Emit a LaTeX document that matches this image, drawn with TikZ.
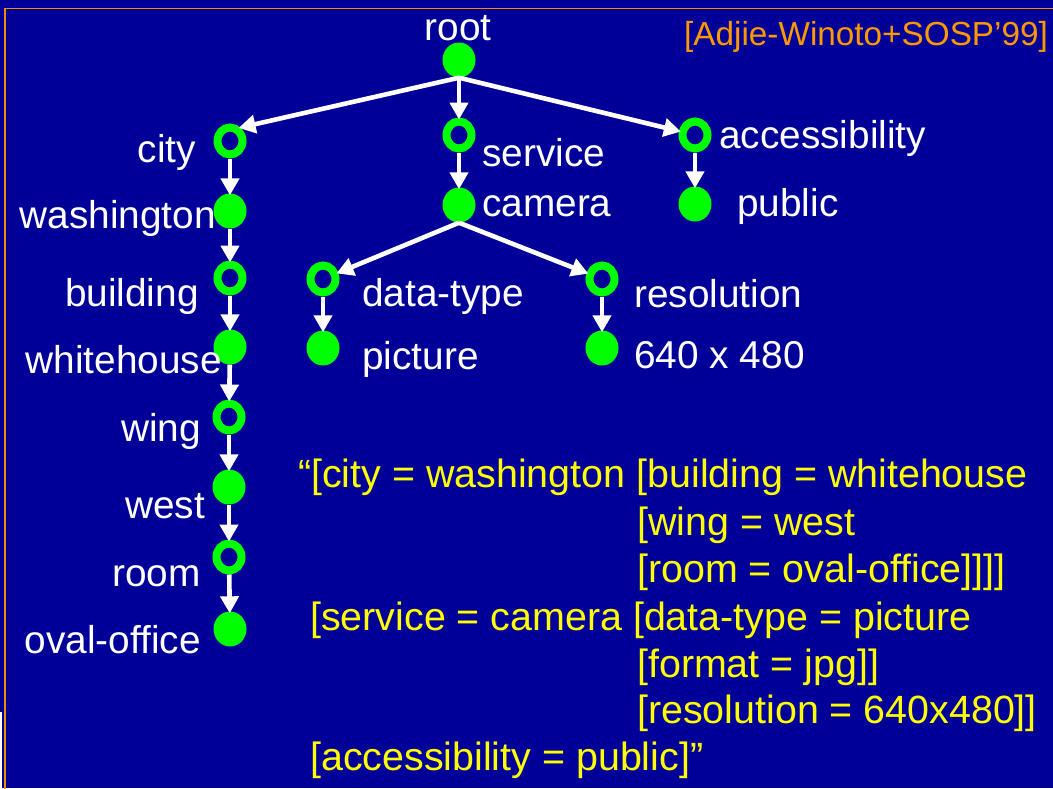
\documentclass[tikz,border=0pt]{standalone}
\usepackage{fontspec}
\setmainfont{Liberation Sans}
\usetikzlibrary{shapes.geometric,arrows.meta}
\definecolor{slidebg}{RGB}{0,0,153}
\definecolor{frameorange}{RGB}{240,140,0}
\definecolor{citeorange}{RGB}{255,153,0}
\definecolor{nodegreen}{RGB}{0,255,0}
\definecolor{codeyellow}{RGB}{255,255,0}

\begin{document}
\begin{tikzpicture}[x=1pt,y=-1pt,
  leaf/.style={ellipse, fill=nodegreen, minimum width=33pt, minimum height=35pt, inner sep=0pt},
  ring/.style={ellipse, draw=nodegreen, line width=8pt, minimum width=25pt, minimum height=27pt, inner sep=0pt},
  lbl/.style={text=white, font=\fontsize{38.8}{46}\selectfont, inner sep=0pt},
  code/.style={text=codeyellow, font=\fontsize{39.4}{47}\selectfont, inner sep=0pt, anchor=base west},
  arr/.style={draw=white, line width=4.6pt, shorten >=-2pt, -{Triangle[length=17pt,width=18pt]}},
]
% slide background and frame
\useasboundingbox (0,0) rectangle (1053,788);
\clip (0,0) rectangle (1053,788);
\fill[slidebg] (0,0) rectangle (1053,788);
\fill[white] (0,712) rectangle (2,788);
\draw[frameorange, line width=1.8pt] (1060,8.5) -- (5.3,8.5) -- (5.3,795);

% citation
\node[text=citeorange, font=\fontsize{33.3}{40}\selectfont, inner sep=0pt, anchor=base west] (cite) at (684,45) {[Adjie-Winoto+SOSP’99]};

% tree nodes (ring = attribute, leaf = value)
\node[leaf] (root) at (459,60) {};
\node[ring] (service) at (459,135) {};
\node[leaf] (camera) at (459,205) {};
\node[ring] (city) at (230,141) {};
\node[leaf] (washington) at (230,211) {};
\node[ring] (building) at (230,278) {};
\node[leaf] (whitehouse) at (230,347) {};
\node[ring] (wing) at (229,417) {};
\node[leaf] (west) at (229,487) {};
\node[ring] (room) at (229,557) {};
\node[leaf] (ovaloffice) at (230,629) {};
\node[ring] (access) at (695,135) {};
\node[leaf] (public) at (695,204) {};
\node[ring] (datatype) at (323,279) {};
\node[leaf] (picture) at (323,348) {};
\node[ring] (resolution) at (602,279) {};
\node[leaf] (res640) at (602,348) {};

% edges
\draw[arr] (root.south) -- (city.52);
\draw[arr] (root.south) -- (service);
\draw[arr] (root.south) -- (access);
\draw[arr] (service) -- (camera);
\draw[arr] (access) -- (public);
\draw[arr] (city) -- (washington);
\draw[arr] (washington) -- (building);
\draw[arr] (building) -- (whitehouse);
\draw[arr] (whitehouse) -- (wing);
\draw[arr] (wing) -- (west);
\draw[arr] (west) -- (room);
\draw[arr] (room) -- (ovaloffice);
\draw[arr] (camera.south) -- (datatype);
\draw[arr] (camera.south) -- (resolution);
\draw[arr] (datatype) -- (picture);
\draw[arr] (resolution) -- (res640);

% labels
\node[lbl, anchor=base] (lroot) at (458,40) {root};
\node[lbl, anchor=base east] (lcity) at (196,162) {city};
\node[lbl, anchor=base west] (lservice) at (482,166) {service};
\node[lbl, anchor=base west] (lcamera) at (482,216) {camera};
\node[lbl, anchor=base west] (laccess) at (719,148) {accessibility};
\node[lbl, anchor=base west] (lpublic) at (737,216) {public};
\node[lbl, anchor=base east] (lwashington) at (216,228) {washington};
\node[lbl, anchor=base east] (lbuilding) at (199,306) {building};
\node[lbl, anchor=base west] (ldatatype) at (362,306) {data-type};
\node[lbl, anchor=base west] (lresolution) at (634,307) {resolution};
\node[lbl, anchor=base east] (lwhitehouse) at (222,373) {whitehouse};
\node[lbl, anchor=base west] (lpicture) at (362,369) {picture};
\node[lbl, anchor=base west] (lres640) at (634,368) {640 x 480};
\node[lbl, anchor=base east] (lwing) at (201,441) {wing};
\node[lbl, anchor=base east] (lwest) at (205,518) {west};
\node[lbl, anchor=base east] (lroom) at (201,586) {room};
\node[lbl, anchor=base east] (lovaloffice) at (201,653) {oval-office};

% textual form of the name
\node[code] (c1) at (298,487) {“[city = washington [building = whitehouse};
\node[code] (c2) at (637,535) {[wing = west};
\node[code] (c3) at (637,582) {[room = oval-office]]]]};
\node[code] (c4) at (310,630) {[service = camera [data-type = picture};
\node[code] (c5) at (637,677) {[format = jpg]]};
\node[code] (c6) at (637,723) {[resolution = 640x480]]};
\node[code] (c7) at (310,770) {[accessibility = public]”};
\end{tikzpicture}
\end{document}
